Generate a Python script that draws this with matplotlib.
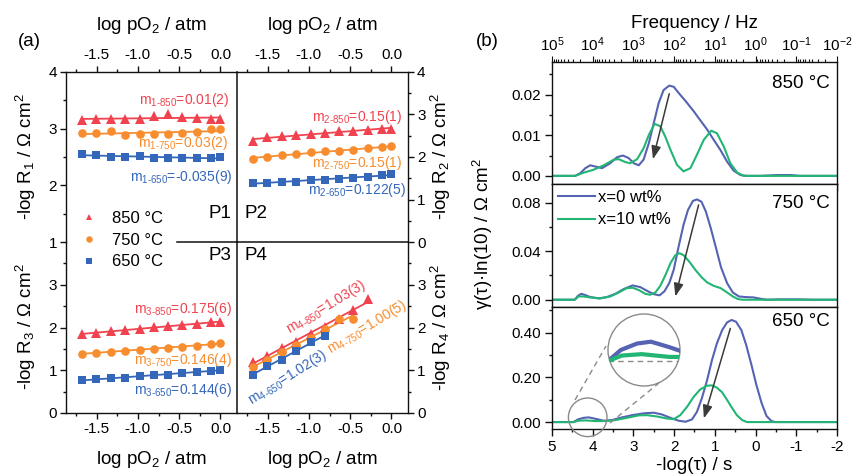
import numpy as np
import matplotlib
matplotlib.use('Agg')
import matplotlib.pyplot as plt
from matplotlib.ticker import MultipleLocator, FixedLocator, FuncFormatter, FormatStrFormatter
from matplotlib.patches import Circle
from matplotlib.lines import Line2D

plt.rcParams['font.family'] = ['Liberation Sans', 'DejaVu Sans']
plt.rcParams['mathtext.fontset'] = 'custom'
plt.rcParams['mathtext.rm'] = 'Liberation Sans'
plt.rcParams['mathtext.it'] = 'Liberation Sans:italic'
plt.rcParams['mathtext.bf'] = 'Liberation Sans:bold'
plt.rcParams['axes.unicode_minus'] = False

# ---------------- data: panel (a) ----------------
log_po2 = [-1.68, -1.51, -1.33, -1.16, -0.98, -0.81, -0.63, -0.46, -0.28, -0.11, 0.0]
temp_labels = ['850 °C', '750 °C', '650 °C']

p1_850 = [3.16, 3.165, 3.17, 3.165, 3.165, 3.23, 3.25, 3.20, 3.195, 3.17, 3.165]
p1_750 = [2.924, 2.924, 2.96, 2.886, 2.903, 2.903, 2.903, 2.918, 2.948, 2.99, 2.988]
p1_650 = [2.545, 2.53, 2.507, 2.507, 2.522, 2.487, 2.487, 2.487, 2.475, 2.475, 2.498]

p2_850 = [2.38, 2.46, 2.49, 2.51, 2.54, 2.57, 2.60, 2.62, 2.64, 2.66, 2.67]
p2_750 = [1.96, 2.01, 2.04, 2.07, 2.11, 2.13, 2.15, 2.17, 2.21, 2.23, 2.25]
p2_650 = [1.39, 1.40, 1.41, 1.42, 1.45, 1.47, 1.49, 1.51, 1.53, 1.57, 1.60]

p3_850 = [1.84, 1.88, 1.91, 1.94, 1.97, 2.01, 2.03, 2.06, 2.09, 2.12, 2.13]
p3_750 = [1.39, 1.41, 1.43, 1.46, 1.48, 1.50, 1.53, 1.55, 1.57, 1.61, 1.64]
p3_650 = [0.77, 0.79, 0.81, 0.83, 0.86, 0.88, 0.90, 0.93, 0.96, 0.99, 1.01]

p4_850 = [1.19, 1.34, 1.51, 1.67, 1.85, 2.02, 2.20, 2.42, 2.67]
p4_750 = [1.07, 1.25, 1.42, 1.58, 1.76, 1.96, 2.21, 2.21]
p4_650 = [0.90, 1.09, 1.25, 1.44, 1.66, 1.80]

slope_texts = {
    'P1': ['m$_{\\mathregular{1\u2010850}}$=0.01(2)', 'm$_{\\mathregular{1\u2010750}}$=0.03(2)', 'm$_{\\mathregular{1\u2010650}}$=-0.035(9)'],
    'P2': ['m$_{\\mathregular{2\u2010850}}$=0.15(1)', 'm$_{\\mathregular{2\u2010750}}$=0.15(1)', 'm$_{\\mathregular{2\u2010650}}$=0.122(5)'],
    'P3': ['m$_{\\mathregular{3\u2010850}}$=0.175(6)', 'm$_{\\mathregular{3\u2010750}}$=0.146(4)', 'm$_{\\mathregular{3\u2010650}}$=0.144(6)'],
    'P4': ['m$_{\\mathregular{4\u2010850}}$=1.03(3)', 'm$_{\\mathregular{4\u2010750}}$=1.00(5)', 'm$_{\\mathregular{4\u2010650}}$=1.02(3)'],
}

# ---------------- data: panel (b) (DRT curves) ----------------
b850_0_x = [5.0, 4.43, 4.30, 4.18, 4.06, 3.94, 3.77, 3.57, 3.40, 3.26, 3.12, 2.99, 2.87, 2.75, 2.62, 2.50,
            2.38, 2.26, 2.12, 2.01, 1.89, 1.72, 1.52, 1.36, 1.19, 1.03, 0.86, 0.70, 0.54, 0.37, 0.21,
            -0.12, -0.53, -0.86, -1.10, -2.0]
b850_0_y = [0, 0, 0.0007, 0.0019, 0.0026, 0.0023, 0.0019, 0.0031, 0.0046, 0.0050, 0.0044, 0.0031, 0.0026,
            0.0040, 0.0081, 0.0130, 0.0179, 0.0211, 0.0222, 0.0219, 0.0204, 0.0184, 0.0159, 0.0137, 0.0114,
            0.0089, 0.0063, 0.0035, 0.0013, 0.0002, 0, 0, 0.0002, 0.0002, 0, 0]
b850_10_x = [5.0, 4.43, 4.22, 3.98, 3.73, 3.48, 3.36, 3.20, 3.08, 2.91, 2.75, 2.62, 2.48, 2.34, 2.22, 2.09,
             1.93, 1.77, 1.60, 1.44, 1.27, 1.09, 0.95, 0.78, 0.62, 0.45, 0.29, -2.0]
b850_10_y = [0, 0, 0.0008, 0.0015, 0.0026, 0.0040, 0.0041, 0.0034, 0.0031, 0.0041, 0.0068, 0.0101, 0.0128,
             0.0122, 0.0097, 0.0064, 0.0027, 0.0011, 0.0019, 0.0052, 0.0089, 0.0111, 0.0105, 0.0072, 0.0031,
             0.0008, 0, 0]

b750_0_x = [5.0, 4.44, 4.36, 4.28, 4.18, 4.06, 3.85, 3.65, 3.44, 3.24, 3.02, 2.83, 2.67, 2.51, 2.36, 2.24,
            2.12, 2.01, 1.89, 1.77, 1.66, 1.54, 1.44, 1.33, 1.22, 1.10, 0.97, 0.85, 0.70, 0.56, 0.41, 0.25,
            0.05, -0.12, -0.28, -0.57, -1.06, -1.39, -2.0]
b750_0_y = [0, 0, 0.0033, 0.0049, 0.0038, 0.0022, 0.0011, 0.0022, 0.0049, 0.0088, 0.0118, 0.0104, 0.0074,
            0.0047, 0.0036, 0.0069, 0.0137, 0.0247, 0.0439, 0.0617, 0.0741, 0.0815, 0.0828, 0.0809, 0.0727,
            0.0590, 0.0425, 0.0269, 0.0137, 0.0060, 0.0027, 0.0022, 0.0019, 0.0008, 0, 0.0003, 0.0003, 0, 0]
b750_10_x = [5.0, 4.44, 4.35, 4.22, 4.06, 3.81, 3.57, 3.36, 3.16, 3.02, 2.87, 2.71, 2.59, 2.46, 2.34, 2.21,
             2.09, 1.97, 1.87, 1.77, 1.63, 1.48, 1.33, 1.19, 1.03, 0.86, 0.70, 0.56, 0.43, 0.32, -2.0]
b750_10_y = [0, 0, 0.0027, 0.0027, 0.0019, 0.0011, 0.0027, 0.0060, 0.0096, 0.0099, 0.0080, 0.0049, 0.0041,
             0.0060, 0.0115, 0.0206, 0.0302, 0.0368, 0.0384, 0.0368, 0.0315, 0.0247, 0.0187, 0.0143, 0.0115,
             0.0096, 0.0060, 0.0027, 0.0005, 0, 0]

b650_0_x = [5.0, 4.47, 4.36, 4.22, 4.10, 3.94, 3.73, 3.53, 3.28, 3.03, 2.75, 2.50, 2.30, 2.09, 1.89, 1.72,
            1.56, 1.44, 1.32, 1.19, 1.07, 0.95, 0.82, 0.70, 0.59, 0.48, 0.35, 0.23, 0.10, -0.02, -0.15,
            -0.27, -0.39, -0.49, -2.0]
b650_0_y = [0, 0, 0.012, 0.019, 0.021, 0.015, 0.006, 0.009, 0.021, 0.031, 0.039, 0.042, 0.034, 0.019, 0.006,
            0.0015, 0.012, 0.046, 0.106, 0.188, 0.278, 0.352, 0.412, 0.446, 0.457, 0.449, 0.412, 0.345, 0.255,
            0.166, 0.084, 0.027, 0.0045, 0, 0]
b650_10_x = [5.0, 4.47, 4.35, 4.18, 3.94, 3.69, 3.44, 3.16, 2.87, 2.67, 2.42, 2.18, 2.01, 1.85, 1.68, 1.52,
             1.36, 1.19, 1.07, 0.95, 0.82, 0.70, 0.58, 0.46, 0.33, 0.21, -2.0]
b650_10_y = [0, 0, 0.006, 0.0075, 0.0045, 0.0045, 0.009, 0.019, 0.030, 0.031, 0.025, 0.016, 0.013, 0.031,
             0.069, 0.113, 0.146, 0.163, 0.164, 0.154, 0.133, 0.099, 0.064, 0.031, 0.009, 0, 0]

series_labels = ['x=0 wt%', 'x=10 wt%']
freq_decades = [5, 4, 3, 2, 1, 0, -1, -2]

# ---------------- figure ----------------
W, H = 853, 474
fig = plt.figure(figsize=(W / 100, H / 100), dpi=100)


def box(x0, y0, x1, y1):
    return [x0 / W, 1 - y1 / H, (x1 - x0) / W, (y1 - y0) / H]


def fx(px):
    return px / W


def fy(py):
    return 1 - py / H


RED, ORA, BLU = '#F0434F', '#F78D2E', '#3467B9'
BLINE, GLINE = '#5563B2', '#22B573'
SPW = 1.0
SPC = '#111111'

axTL = fig.add_axes(box(66, 72, 237, 242))
axTR = fig.add_axes(box(237, 72, 408, 242))
axBL = fig.add_axes(box(66, 242, 237, 413))
axBR = fig.add_axes(box(237, 242, 408, 413))


def series(ax, y, color, marker, ms, label=None):
    x = np.asarray(log_po2[:len(y)])
    y = np.asarray(y)
    k, b = np.polyfit(x, y, 1)
    xx = np.array([x.min(), x.max()])
    ax.plot(xx, k * xx + b, color=color, lw=1.3, zorder=2)
    ax.plot(x, y, ls='none', marker=marker, ms=ms, color=color, mec=color, mew=0, zorder=3, label=label)


for ax, (s850, s750, s650) in zip((axTL, axTR, axBL, axBR),
                                  ((p1_850, p1_750, p1_650), (p2_850, p2_750, p2_650),
                                   (p3_850, p3_750, p3_650), (p4_850, p4_750, p4_650))):
    series(ax, s850, RED, '^', 6.5, temp_labels[0])
    series(ax, s750, ORA, 'o', 6.2, temp_labels[1])
    series(ax, s650, BLU, 's', 5.3, temp_labels[2])

fmt1 = FuncFormatter(lambda v, p: f'{round(v, 2) + 0.0:.1f}')
for ax in (axTL, axTR, axBL, axBR):
    ax.patch.set_visible(False)
    ax.set_xlim(-1.87, 0.2)
    ax.xaxis.set_major_locator(MultipleLocator(0.5))
    ax.xaxis.set_minor_locator(MultipleLocator(0.25))
    ax.xaxis.set_major_formatter(fmt1)
    ax.yaxis.set_major_formatter(FormatStrFormatter('%d'))
    ax.tick_params(which='both', direction='out', width=SPW, labelsize=11, pad=2.5, color=SPC)
    ax.tick_params(which='major', length=4)
    ax.tick_params(which='minor', length=2)
    for s in ax.spines.values():
        s.set_linewidth(SPW)
        s.set_color(SPC)

for ax in (axTL, axTR):
    ax.tick_params(axis='x', which='both', bottom=False, top=True, labelbottom=False, labeltop=True, pad=3.5)
for ax in (axBL, axBR):
    ax.tick_params(axis='x', which='both', bottom=True, top=False)

axTL.set_ylim(1, 4)
axTL.set_yticks([1, 2, 3, 4])
axTL.yaxis.set_minor_locator(MultipleLocator(0.5))
axTR.set_ylim(0, 4)
axTR.set_yticks([0, 1, 2, 3, 4])
axTR.yaxis.set_minor_locator(MultipleLocator(0.5))
for ax in (axBL, axBR):
    ax.set_ylim(0, 4)
    ax.set_yticks([0, 1, 2, 3])
    ax.yaxis.set_minor_locator(FixedLocator([0.5, 1.5, 2.5, 3.5]))
for ax in (axTL, axBL):
    ax.tick_params(axis='y', which='both', left=True, right=False)
for ax in (axTR, axBR):
    ax.tick_params(axis='y', which='both', left=False, right=True, labelleft=False, labelright=True)

axTL.spines['bottom'].set_visible(False)
axBL.spines['top'].set_visible(False)
axTR.spines['left'].set_visible(False)
axBR.spines['left'].set_visible(False)
axBR.spines['top'].set_visible(False)
axTL.spines['right'].set_visible(False)
axBL.spines['right'].set_visible(False)
axTR.spines['bottom'].set_visible(False)
# divider lines
axTL.plot([(177 - 66) / 171, 1], [0, 0], transform=axTL.transAxes, color=SPC, lw=1.1, clip_on=False,
          zorder=5)
axTR.plot([0, 1], [0, 0], transform=axTR.transAxes, color=SPC, lw=1.1, clip_on=False, zorder=5)
axTR.plot([0, 0], [0, 1], transform=axTR.transAxes, color=SPC, lw=1.1, clip_on=False, zorder=5)
axBR.plot([0, 0], [0, 1], transform=axBR.transAxes, color=SPC, lw=1.1, clip_on=False, zorder=5)

# slope annotations
ann_kw = dict(fontsize=10, va='center')
for (x, y, c), t in zip(((0.10, 3.51, RED), (0.09, 2.75, ORA), (0.15, 2.14, BLU)), slope_texts['P1']):
    axTL.text(x, y, t, color=c, ha='right', **ann_kw)
for (x, y, c), t in zip(((0.13, 2.94, RED), (0.13, 1.86, ORA), (0.17, 1.22, BLU)), slope_texts['P2']):
    axTR.text(x, y, t, color=c, ha='right', **ann_kw)
for (x, y, c), t in zip(((0.14, 2.44, RED), (0.14, 1.24, ORA), (0.14, 0.54, BLU)), slope_texts['P3']):
    axBL.text(x, y, t, color=c, ha='right', **ann_kw)
for (x, y, c, r), t in zip(((-0.79, 2.48, RED, 31), (-0.30, 2.01, ORA, 31), (-1.26, 0.84, BLU, 32)),
                           slope_texts['P4']):
    axBR.text(x, y, t, color=c, ha='center', rotation=r, rotation_mode='anchor', **ann_kw)

# panel labels
fig.text(fx(231), fy(214), 'P1', ha='right', va='center', fontsize=13.5)
fig.text(fx(245), fy(214), 'P2', ha='left', va='center', fontsize=13.5)
fig.text(fx(231), fy(256), 'P3', ha='right', va='center', fontsize=13.5)
fig.text(fx(245), fy(256), 'P4', ha='left', va='center', fontsize=13.5)

h, l = axTL.get_legend_handles_labels()
fig.legend(h, l, loc='upper left', bbox_to_anchor=(fx(80.5), fy(211)), bbox_transform=fig.transFigure,
           frameon=False, fontsize=12, handlelength=1.0, handletextpad=0.9, labelspacing=0.4,
           markerscale=0.75, borderpad=0, borderaxespad=0)

xl = 'log pO$_2$ / atm'
fig.text(fx(151.5), fy(25), xl, ha='center', va='center', fontsize=13.5)
fig.text(fx(322.5), fy(25), xl, ha='center', va='center', fontsize=13.5)
fig.text(fx(151.5), fy(460), xl, ha='center', va='center', fontsize=13.5)
fig.text(fx(322.5), fy(460), xl, ha='center', va='center', fontsize=13.5)
fig.text(fx(26), fy(157), '-log R$_1$ / Ω cm$^2$', rotation=90, ha='center', va='center', fontsize=13.5)
fig.text(fx(26), fy(327), '-log R$_3$ / Ω cm$^2$', rotation=90, ha='center', va='center', fontsize=13.5)
fig.text(fx(441), fy(157), '-log R$_2$ / Ω cm$^2$', rotation=90, ha='center', va='center', fontsize=13.5)
fig.text(fx(441), fy(328), '-log R$_4$ / Ω cm$^2$', rotation=90, ha='center', va='center', fontsize=13.5)
fig.text(fx(29), fy(41), '(a)', ha='center', va='center', fontsize=13.5)
fig.text(fx(487), fy(41), '(b)', ha='center', va='center', fontsize=13.5)

# ---------------- panel (b) ----------------
axb1 = fig.add_axes(box(552, 62, 837, 184))
axb2 = fig.add_axes(box(552, 184, 837, 307))
axb3 = fig.add_axes(box(552, 307, 837, 429))

curves = [((b850_0_x, b850_0_y), (b850_10_x, b850_10_y)),
          ((b750_0_x, b750_0_y), (b750_10_x, b750_10_y)),
          ((b650_0_x, b650_0_y), (b650_10_x, b650_10_y))]
for ax, (c0, c10) in zip((axb1, axb2, axb3), curves):
    ax.plot(c0[0], c0[1], color=BLINE, lw=1.5, label=series_labels[0], solid_joinstyle='round')
    ax.plot(c10[0], c10[1], color=GLINE, lw=1.5, label=series_labels[1], solid_joinstyle='round')
    ax.set_xlim(5, -2)
    ax.yaxis.set_major_formatter(FormatStrFormatter('%.2f'))
    ax.tick_params(which='both', direction='out', width=SPW, labelsize=11, pad=3, color=SPC)
    ax.tick_params(which='major', length=5)
    ax.tick_params(which='minor', length=2.5)
    ax.tick_params(axis='x', which='both', bottom=False, top=False, labelbottom=False)
    ax.tick_params(axis='y', which='both', left=True, right=False)
    for s in ax.spines.values():
        s.set_linewidth(SPW)
        s.set_color(SPC)

axb1.set_ylim(-0.002, 0.028)
axb1.yaxis.set_major_locator(MultipleLocator(0.01))
axb1.yaxis.set_minor_locator(MultipleLocator(0.005))
axb2.set_ylim(-0.006, 0.0955)
axb2.yaxis.set_major_locator(MultipleLocator(0.04))
axb2.yaxis.set_minor_locator(MultipleLocator(0.02))
axb3.set_ylim(-0.031, 0.515)
axb3.yaxis.set_major_locator(MultipleLocator(0.2))
axb3.yaxis.set_minor_locator(MultipleLocator(0.1))

axb3.tick_params(axis='x', which='both', bottom=True, labelbottom=True)
axb3.xaxis.set_major_locator(MultipleLocator(1))
axb3.xaxis.set_minor_locator(MultipleLocator(0.5))
axb3.xaxis.set_major_formatter(FuncFormatter(lambda v, p: f'{int(round(v))}'))

axf = axb1.twiny()
axf.set_xlim(axb1.get_xlim())
axf.set_xticks(freq_decades)
axf.set_xticklabels([f'$10^{{{n}}}$' for n in freq_decades])
minor_f = [n + np.log10(k) for n in range(-2, 5) for k in range(2, 10)]
axf.xaxis.set_minor_locator(FixedLocator(minor_f))
axf.tick_params(which='both', direction='out', width=0.8, labelsize=11, pad=2, color=SPC)
axf.tick_params(which='major', length=4)
axf.tick_params(which='minor', length=2)
for s in axf.spines.values():
    s.set_visible(False)

# arrows
arrow_kw = dict(arrowstyle='-|>,head_length=0.6,head_width=0.22', color='#3a3a3a', lw=1.1,
                mutation_scale=13, shrinkA=0, shrinkB=0)
axb1.annotate('', xy=(2.52, 0.0041), xytext=(2.12, 0.0202), arrowprops=arrow_kw)
axb2.annotate('', xy=(1.97, 0.0027), xytext=(1.40, 0.0782), arrowprops=arrow_kw)
axb3.annotate('', xy=(1.27, 0.0164), xytext=(0.62, 0.419), arrowprops=arrow_kw)

fig.text(fx(830), fy(83), '850 °C', ha='right', va='center', fontsize=13.5)
fig.text(fx(830), fy(203), '750 °C', ha='right', va='center', fontsize=13.5)
fig.text(fx(830), fy(322), '650 °C', ha='right', va='center', fontsize=13.5)

axb2.legend(loc='upper left', bbox_to_anchor=(fx(558), fy(190)), bbox_transform=fig.transFigure,
            frameon=False, fontsize=12, handlelength=2.2, handletextpad=0.2, labelspacing=0.45,
            borderpad=0, borderaxespad=0)

fig.text(fx(694.5), fy(23), 'Frequency / Hz', ha='center', va='center', fontsize=13.5)
fig.text(fx(694.5), fy(457), '-log(τ) / s', ha='center', va='top', fontsize=13.5)
fig.text(fx(483), fy(234), 'γ(τ)·ln(10) / Ω cm$^2$', rotation=90, ha='center', va='center', fontsize=13.5)

# magnifier inset
GRAY = '#8a8a8a'
ins = fig.add_axes(box(608, 314, 680, 386))
ins.set_axis_off()
ins.set_xlim(4.47, 3.85)
ins.set_ylim(-0.027, 0.051)
circ = Circle((0.5, 0.5), 0.5, transform=ins.transAxes, fc='white', ec=GRAY, lw=1.0, zorder=1, clip_on=False)
ins.add_patch(circ)
base = ins.axhline(0, color=GRAY, ls=(0, (4, 3)), lw=1.0, zorder=2)
base.set_clip_path(circ)
for (cx, cy), col in zip(curves[2], (BLINE, GLINE)):
    ln, = ins.plot(cx, cy, color=col, lw=3, zorder=3, solid_capstyle='butt')
    ln.set_clip_path(circ)

fig.add_artist(Circle((587.7 / 100, (H - 417.3) / 100), 0.193, transform=fig.dpi_scale_trans,
                      fill=False, ec=GRAY, lw=1.0))
fig.add_artist(Line2D([575 / 100, 606 / 100], [(H - 400) / 100, (H - 346) / 100],
                      transform=fig.dpi_scale_trans, color=GRAY, ls=(0, (4, 3)), lw=1.0))
fig.add_artist(Line2D([610 / 100, 659 / 100], [(H - 423) / 100, (H - 383) / 100],
                      transform=fig.dpi_scale_trans, color=GRAY, ls=(0, (4, 3)), lw=1.0))

fig.savefig('out.png', dpi=100)
